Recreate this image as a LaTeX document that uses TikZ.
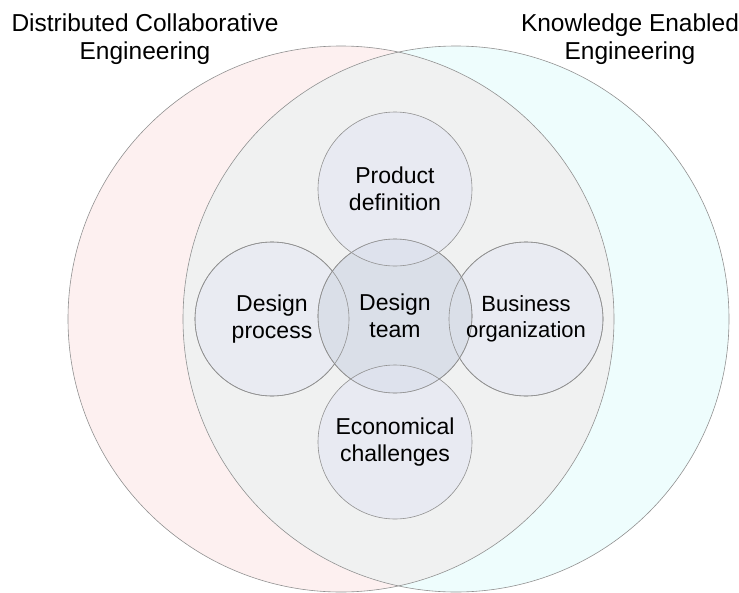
\documentclass[tikz,border=0pt]{standalone}
\usepackage{fontspec}
\setmainfont{Liberation Sans}
\begin{document}
\begin{tikzpicture}[x=1pt,y=-1pt,
  outline/.style={draw=linegray, line width=0.6pt},
  bigcircle/.style={circle, inner sep=0pt, minimum size=546pt},
  smallcircle/.style={circle, outline, inner sep=0pt, minimum size=154pt},
  label/.style={align=center, inner sep=0pt, font=\fontsize{23}{26.5}\selectfont, text=black},
  title/.style={align=center, inner sep=0pt, font=\fontsize{24.5}{28}\selectfont, text=black}]
\definecolor{linegray}{RGB}{145,145,145}
\definecolor{pinkfill}{RGB}{253,240,240}
\definecolor{cyanfill}{RGB}{238,253,253}
\definecolor{lensfill}{RGB}{240,241,241}
\definecolor{sidefill}{RGB}{233,235,242}
\definecolor{teamfill}{RGB}{218,223,232}
\definecolor{vertfill}{RGB}{226,229,243}
\useasboundingbox (0,0) rectangle (739,592);
% big circles
\node[bigcircle, fill=pinkfill] (dce) at (341,319) {};
\node[bigcircle, fill=cyanfill] (kee) at (456,319) {};
\begin{scope}
  \clip (341,319) circle[radius=273pt];
  \fill[lensfill] (456,319) circle[radius=273pt];
\end{scope}
\draw[outline] (dce.center) circle[radius=273pt];
\draw[outline] (kee.center) circle[radius=273pt];
% titles
\node[title, anchor=north] (dcetitle) at (145,14) {Distributed Collaborative\\Engineering};
\node[title, anchor=north] (keetitle) at (630,14) {Knowledge Enabled\\Engineering};
% inner circles
\node[smallcircle, fill=sidefill] (process) at (272,319) {};
\node[smallcircle, fill=sidefill] (business) at (526,319) {};
\node[smallcircle, fill=teamfill] (team) at (395,316) {};
\node[smallcircle, fill=vertfill, fill opacity=0.5] (product) at (395,189) {};
\node[smallcircle, fill=vertfill, fill opacity=0.5] (econ) at (395,442) {};
% outlines on top
\draw[outline] (process.center) circle[radius=77pt];
\draw[outline] (business.center) circle[radius=77pt];
\draw[outline] (team.center) circle[radius=77pt];
% labels
\node[label] (processlabel) at (process.center) {Design\\process};
\node[label, font=\fontsize{22}{26.5}\selectfont] (businesslabel) at (business.center) {Business\\organization};
\node[label] (teamlabel) at (team.center) {Design\\team};
\node[label] (productlabel) at (product.center) {Product\\definition};
\node[label] (econlabel) at (econ.center) {Economical\\challenges};
\end{tikzpicture}
\end{document}
